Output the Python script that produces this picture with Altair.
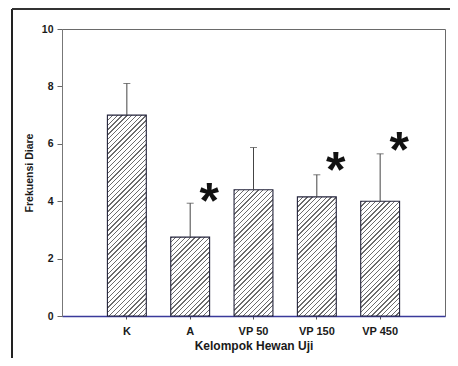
import altair as alt
import pandas as pd
import math

# ---- data ----
groups = ["K", "A", "VP 50", "VP 150", "VP 450"]
means = [7.0, 2.75, 4.4, 4.15, 4.0]
err_tops = [8.1, 3.93, 5.87, 4.92, 5.65]
star_groups = ["A", "VP 150", "VP 450"]
star_y = [4.3, 5.35, 6.05]
y_ticks = [0, 2, 4, 6, 8, 10]

df = pd.DataFrame({"g": groups, "m": means, "e": err_tops})
stars = pd.DataFrame({"g": star_groups, "y": star_y, "t": ["*"] * len(star_groups)})

W, H = 383, 287
P_IN, P_OUT = 0.386, 0.717
FONT = "Liberation Sans"

step = W / (len(groups) - P_IN + 2 * P_OUT)
bw = step * (1 - P_IN)


def hatch(value):
    """Diagonal hatch as a hard-stop linear gradient for a bar of the given value."""
    bh = max(value / 10 * H, 1)
    lam = (bw + bh) / (bw ** 2 + bh ** 2)
    D = (bw + bh) / math.sqrt(2)
    spacing = 3.4
    dark = 0.95
    n = int(D / spacing) + 1
    stops = []
    for i in range(n):
        a = i * spacing / D
        b = min((i * spacing + dark) / D, 1)
        c = min((i + 1) * spacing / D, 1)
        if a >= 1:
            break
        stops += [alt.GradientStop(offset=a, color="#6c6c6c"),
                  alt.GradientStop(offset=b, color="#6c6c6c"),
                  alt.GradientStop(offset=b, color="#ffffff"),
                  alt.GradientStop(offset=c, color="#ffffff")]
    return alt.LinearGradient(gradient="linear", stops=stops,
                              x1=0, y1=0, x2=lam * bw, y2=lam * bh)


xenc = alt.X("g:N", sort=groups,
             scale=alt.Scale(paddingInner=P_IN, paddingOuter=P_OUT),
             axis=alt.Axis(title="Kelompok Hewan Uji", labelAngle=0,
                           labelFont=FONT, labelFontSize=11, labelFontWeight="bold",
                           labelColor="#1a1a1a", labelPadding=6,
                           titleFont=FONT, titleFontSize=12, titleFontWeight="bold",
                           titleColor="#1a1a1a", titlePadding=4,
                           domainColor="#3a3a9a", domainWidth=1.5,
                           tickColor="#555", tickSize=3))
yenc = alt.Y("m:Q", scale=alt.Scale(domain=[0, 10], nice=False),
             axis=alt.Axis(title="Frekuensi Diare", values=y_ticks, grid=False,
                           labelFont=FONT, labelFontSize=10.5, labelFontWeight="bold",
                           labelColor="#1a1a1a", labelPadding=4,
                           titleFont=FONT, titleFontSize=10.5, titleFontWeight="bold",
                           titleColor="#1a1a1a", titlePadding=7,
                           domainColor="#777", tickColor="#666", tickSize=5))

base = alt.Chart(df)

bars = [
    base.transform_filter(alt.datum.g == g)
    .mark_bar(fill=hatch(m), stroke="#22223a", strokeWidth=1.1)
    .encode(x=xenc, y=yenc)
    for g, m in zip(groups, means)
]

err = base.mark_rule(color="#444", strokeWidth=1).encode(
    x=alt.X("g:N", sort=groups), y="m:Q", y2="e:Q")
cap = base.mark_tick(color="#444", thickness=1, size=7, orient="horizontal").encode(
    x=alt.X("g:N", sort=groups), y="e:Q")

star = alt.Chart(stars).mark_text(
    font=FONT, fontSize=50, fontWeight="bold", color="#111",
    dx=19, dy=10, baseline="middle", align="center"
).encode(x=alt.X("g:N", sort=groups), y="y:Q", text="t:N")

frame_left = alt.Chart(df).mark_rule(color="#222", strokeWidth=2).encode(
    x=alt.value(-50), y=alt.value(-20), y2=alt.value(345))
frame_top = alt.Chart(df).mark_rule(color="#333", strokeWidth=2).encode(
    x=alt.value(-50), x2=alt.value(400), y=alt.value(-20))

chart = alt.layer(*bars, err, cap, star, frame_left, frame_top).properties(
    width=W, height=H,
    autosize=alt.AutoSizeParams(type="none"),
    padding={"left": 54, "top": 21, "right": 5, "bottom": 42},
    background="white",
).configure_view(stroke="#6a6a6a", strokeWidth=1)

chart.save("out.html", embed_options={"renderer": "svg", "actions": False})
